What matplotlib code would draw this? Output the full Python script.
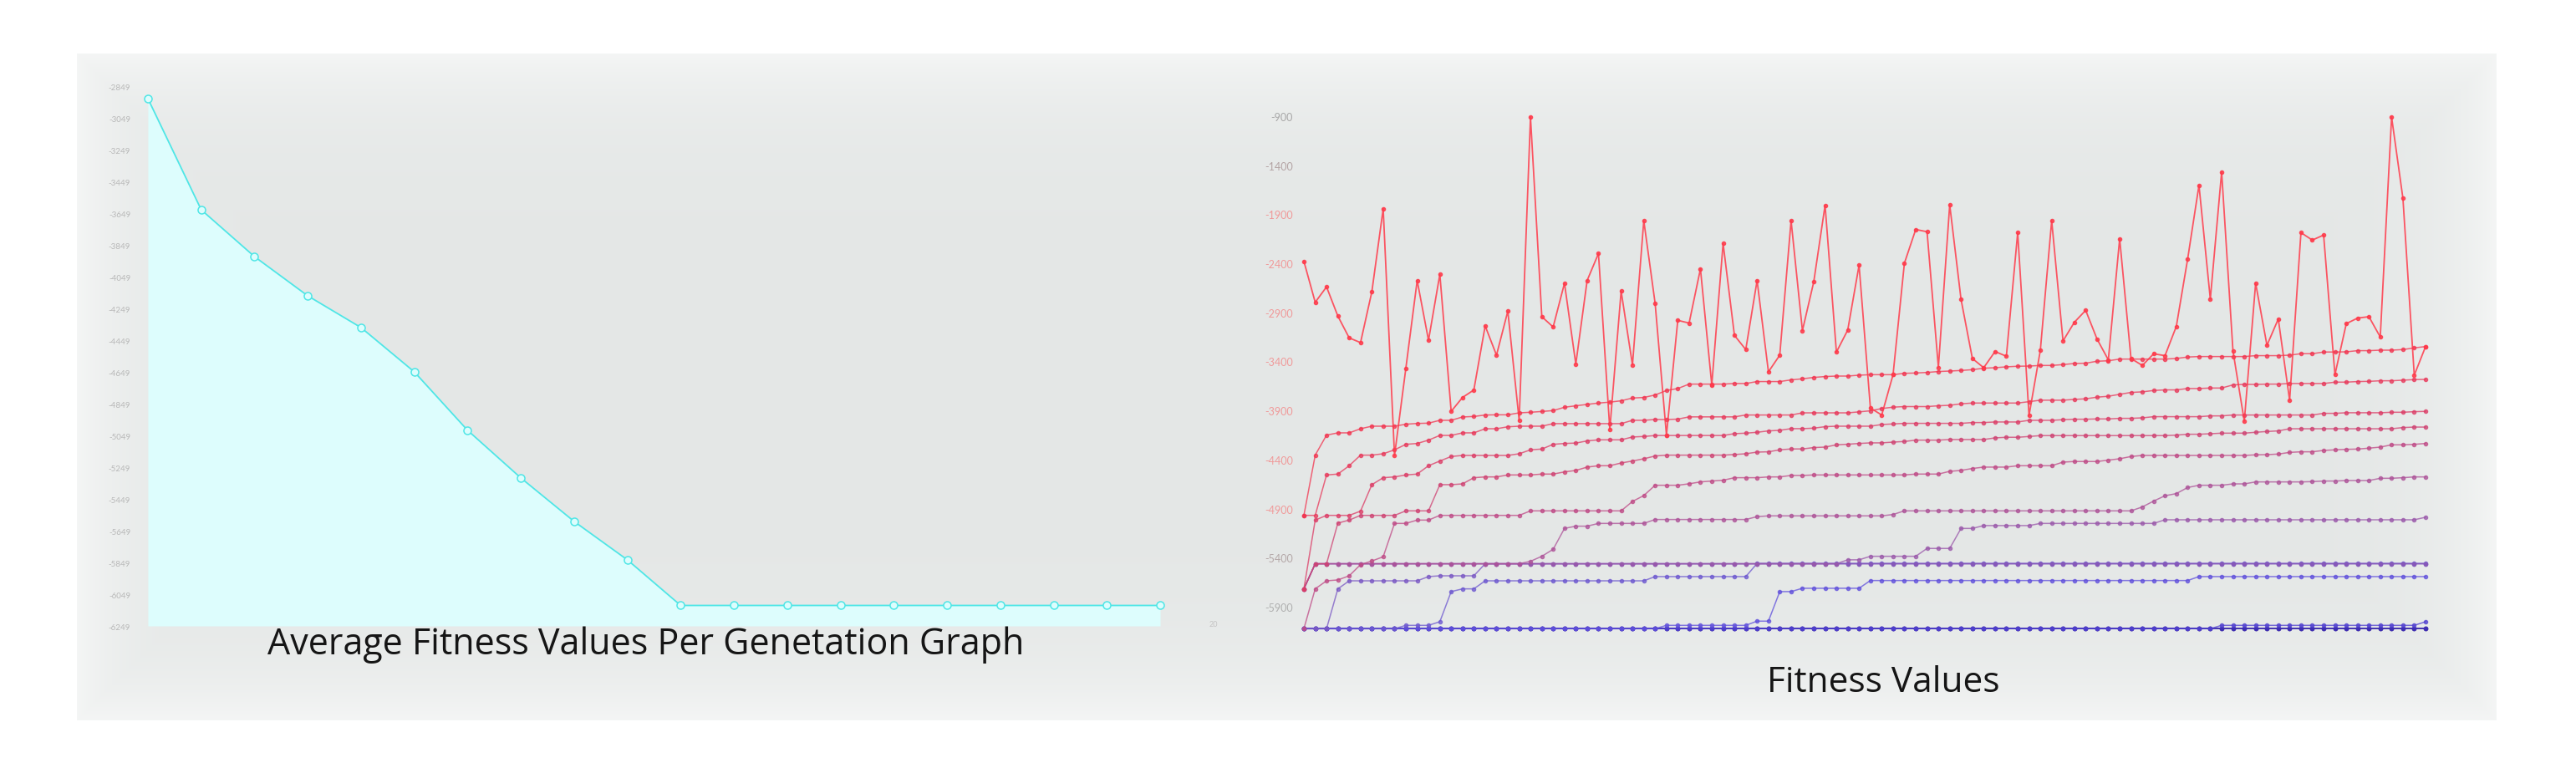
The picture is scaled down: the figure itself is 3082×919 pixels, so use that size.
import numpy as np
import matplotlib
matplotlib.use('Agg')
import matplotlib.pyplot as plt

W, H = 3082, 920

# ---- left chart: average fitness per generation (20 generations)
avg_fitness = [-2928, -3628, -3923, -4170, -4370, -4649, -5017, -5317, -5591, -5833,
               -6120, -6120, -6120, -6120, -6120, -6120, -6120, -6120, -6120, -6120]
left_ticks = [-6249, -6049, -5849, -5649, -5449, -5249, -5049, -4849, -4649,
              -4449, -4249, -4049, -3849, -3649, -3449, -3249, -3049, -2849]
left_xtick = [20]

# ---- right chart: fitness values over 100 generations
best_each_gen = [
    -2379, -2797, -2640, -2938, -3160, -3208, -2689, -1843, -4360, -3469,
    -2575, -3185, -2512, -3909, -3767, -3691, -3038, -3336, -2887, -4000,
    -909, -2944, -3049, -2603, -3427, -2575, -2300, -4094, -2683, -3435,
    -1965, -2808, -4151, -2981, -3009, -2456, -3640, -2197, -3134, -3279,
    -2575, -3506, -3336, -1965, -3086, -2589, -1808, -3305, -3080, -2419,
    -3875, -3946, -3535, -2399, -2055, -2078, -3461, -1803, -2768, -3370,
    -3464, -3299, -3347, -2087, -3952, -3285, -1965, -3191, -3001, -2879,
    -3171, -3384, -2149, -3370, -3441, -3322, -3341, -3043, -2356, -1604,
    -2765, -1468, -3293, -4009, -2603, -3236, -2967, -3796, -2087, -2163,
    -2112, -3535, -3015, -2958, -2944, -3151, -909, -1738, -3540, -3248]

# the ranked lines, read as (value, number of generations) runs
rank1 = [(-4969, 1), (-4355, 1), (-4151, 1), (-4128, 2), (-4086, 1), (-4060, 3), (-4040, 1),
         (-4032, 1), (-4029, 1), (-4000, 2), (-3966, 1), (-3961, 1), (-3946, 1), (-3944, 2),
         (-3924, 1), (-3918, 1), (-3910, 1), (-3901, 1), (-3867, 1), (-3852, 1), (-3838, 1),
         (-3824, 1), (-3815, 1), (-3801, 1), (-3773, 1), (-3767, 1), (-3742, 1), (-3696, 1),
         (-3676, 1), (-3631, 4), (-3625, 2), (-3605, 3), (-3588, 1), (-3577, 1), (-3563, 1),
         (-3554, 1), (-3549, 2), (-3540, 1), (-3535, 3), (-3521, 1), (-3518, 1), (-3512, 1),
         (-3503, 1), (-3498, 1), (-3492, 1), (-3484, 1), (-3469, 1), (-3464, 1), (-3455, 1),
         (-3449, 1), (-3447, 1), (-3441, 2), (-3432, 1), (-3421, 1), (-3418, 1), (-3398, 1),
         (-3393, 1), (-3376, 5), (-3370, 1), (-3355, 1), (-3350, 5), (-3341, 3), (-3336, 1),
         (-3321, 2), (-3304, 2), (-3302, 1), (-3290, 2), (-3285, 2), (-3279, 1), (-3262, 1),
         (-3248, 1)]
rank2 = [(-4969, 2), (-4557, 1), (-4548, 1), (-4463, 1), (-4355, 2), (-4341, 1), (-4301, 1),
         (-4245, 1), (-4236, 1), (-4202, 1), (-4154, 2), (-4128, 2), (-4086, 2), (-4066, 1),
         (-4060, 3), (-4034, 7), (-4000, 2), (-3992, 2), (-3988, 1), (-3965, 5), (-3946, 5),
         (-3924, 5), (-3914, 1), (-3903, 1), (-3880, 1), (-3866, 1), (-3860, 3), (-3852, 1),
         (-3847, 1), (-3832, 1), (-3824, 5), (-3810, 1), (-3795, 3), (-3787, 1), (-3781, 1),
         (-3764, 1), (-3755, 1), (-3735, 1), (-3716, 1), (-3710, 1), (-3696, 1), (-3690, 2),
         (-3676, 2), (-3671, 2), (-3639, 1), (-3634, 2), (-3631, 2), (-3625, 4), (-3611, 2),
         (-3605, 1), (-3603, 1), (-3597, 2), (-3591, 1), (-3585, 1), (-3583, 1)]
rank3 = [(-5718, 1), (-5017, 1), (-4969, 3), (-4926, 1), (-4656, 1), (-4585, 1), (-4577, 1),
         (-4557, 1), (-4548, 1), (-4463, 1), (-4415, 1), (-4369, 1), (-4358, 5), (-4341, 1),
         (-4301, 1), (-4293, 1), (-4245, 1), (-4236, 1), (-4232, 1), (-4210, 1), (-4199, 3),
         (-4170, 1), (-4165, 1), (-4155, 7), (-4136, 1), (-4131, 1), (-4122, 1), (-4108, 1),
         (-4102, 1), (-4085, 2), (-4080, 1), (-4065, 1), (-4060, 4), (-4043, 1), (-4037, 1),
         (-4031, 6), (-4023, 2), (-4017, 3), (-4000, 3), (-3994, 1), (-3989, 2), (-3986, 2),
         (-3980, 2), (-3975, 1), (-3963, 5), (-3955, 2), (-3946, 8), (-3929, 2), (-3923, 4),
         (-3918, 2), (-3912, 1), (-3909, 1)]
rank4 = [(-5718, 1), (-5462, 2), (-5048, 1), (-5017, 1), (-4969, 4), (-4923, 3), (-4656, 2),
         (-4648, 1), (-4585, 1), (-4577, 2), (-4557, 3), (-4548, 2), (-4526, 1), (-4511, 1),
         (-4477, 1), (-4463, 2), (-4435, 1), (-4415, 1), (-4392, 1), (-4364, 1), (-4355, 6),
         (-4349, 1), (-4341, 1), (-4324, 1), (-4321, 1), (-4301, 1), (-4292, 2), (-4278, 1),
         (-4273, 1), (-4250, 1), (-4244, 1), (-4236, 1), (-4230, 2), (-4222, 1), (-4216, 1),
         (-4202, 3), (-4196, 4), (-4179, 1), (-4173, 2), (-4165, 1), (-4156, 12), (-4151, 1),
         (-4142, 2), (-4137, 1), (-4131, 3), (-4122, 1), (-4114, 1), (-4108, 1), (-4086, 10),
         (-4074, 1), (-4069, 2)]
rank5 = [(-6124, 1), (-5718, 1), (-5636, 1), (-5627, 1), (-5585, 1), (-5471, 1), (-5434, 1),
         (-5391, 1), (-5051, 2), (-5017, 2), (-4969, 8), (-4923, 9), (-4827, 1), (-4767, 1),
         (-4662, 3), (-4647, 1), (-4628, 1), (-4619, 1), (-4611, 1), (-4585, 3), (-4577, 2),
         (-4562, 2), (-4557, 9), (-4548, 3), (-4520, 1), (-4511, 1), (-4491, 1), (-4477, 3),
         (-4463, 4), (-4426, 1), (-4420, 3), (-4406, 1), (-4392, 1), (-4369, 1), (-4358, 10),
         (-4352, 1), (-4350, 1), (-4344, 1), (-4327, 1), (-4321, 2), (-4307, 1), (-4301, 1),
         (-4296, 1), (-4293, 1), (-4284, 1), (-4273, 1), (-4250, 2), (-4245, 1), (-4236, 1)]
rank6 = [(-5718, 1), (-5462, 19), (-5437, 1), (-5386, 1), (-5315, 1), (-5102, 1), (-5079, 2),
         (-5051, 5), (-5011, 9), (-4982, 1), (-4974, 11), (-4960, 1), (-4923, 21), (-4883, 1),
         (-4823, 1), (-4769, 1), (-4747, 1), (-4685, 1), (-4662, 3), (-4648, 2), (-4628, 5),
         (-4625, 1), (-4619, 2), (-4614, 3), (-4591, 2), (-4585, 1), (-4577, 2)]
rank7 = [(-5718, 1), (-5462, 47), (-5422, 2), (-5386, 5), (-5306, 3), (-5102, 2), (-5073, 5),
         (-5051, 11), (-5014, 23), (-4988, 1)]
rank8 = [(-5718, 1), (-5462, 99)]
rank9 = [(-6124, 3), (-5718, 1), (-5636, 7), (-5593, 1), (-5585, 4), (-5462, 84)]
rank10 = [(-6124, 9), (-6090, 3), (-6053, 1), (-5746, 1), (-5718, 2), (-5636, 15), (-5593, 9),
          (-5459, 60)]
rank11 = [(-6124, 32), (-6090, 8), (-6047, 2), (-5746, 2), (-5712, 6), (-5633, 29), (-5593, 21)]
rank12 = [(-6124, 81), (-6090, 18), (-6053, 1)]
rank13 = [(-6124, 100)]
rank14 = [(-6124, 100)]
rank15 = [(-6124, 100)]
right_ticks = [-5900, -5400, -4900, -4400, -3900, -3400, -2900, -2400, -1900, -1400, -900]


def expand(runs):
    vals = [v for v, n in runs for _ in range(n)]
    assert len(vals) == 100, len(vals)
    return vals


ranked = [rank1, rank2, rank3, rank4, rank5, rank6, rank7, rank8, rank9, rank10,
          rank11, rank12, rank13, rank14, rank15]
rank_colors = ['#f2344f', '#e8385a', '#dc3c66', '#cf4272', '#bf4a86', '#ad5298', '#9a58aa',
               '#8858b8', '#7a58c4', '#6d58d0', '#6050dc', '#5040d0', '#4030b8', '#3420a0',
               '#2a1488']
tick_cols = ['#b0b0b0', '#b4a8a8', '#f09a9a', '#f09a9a', '#f09a9a', '#f09a9a', '#f09a9a',
             '#f09a9a', '#f09a9a', '#b4a4a4', '#a8a8a8']

fig = plt.figure(figsize=(W / 100, H / 100), dpi=100)
fig.patch.set_facecolor('white')

# grey panel with soft light edges
bg = fig.add_axes([0, 0, 1, 1], zorder=-5)
xx, yy = np.meshgrid(np.arange(W), np.arange(H))
d = np.minimum(np.minimum(xx - 92, 2986 - xx), np.minimum(yy - 65, 862 - yy)).astype(float)
inside = d >= 0
lift = 0.8 * np.exp(-np.clip(d, 0, None) / 70.0)
base = np.array([228, 231, 230]) / 255.0
img = base[None, None, :] + (1 - base[None, None, :]) * lift[..., None] * 0.75
img[~inside] = 1.0
bg.imshow(img, aspect='auto', extent=[0, W, H, 0], interpolation='bilinear')
bg.set_xlim(0, W)
bg.set_ylim(H, 0)
bg.axis('off')


def px_axes(left, right, top, bottom):
    return fig.add_axes([left / W, 1 - bottom / H, (right - left) / W, (bottom - top) / H])


# ---- left chart
ax1 = px_axes(177, 1500, 80, 750)
ax1.set_facecolor('none')
gx = np.arange(len(avg_fitness))
ax1.fill_between(gx, avg_fitness, left_ticks[0], color='#ddfdfd', lw=0, zorder=1)
ax1.plot(gx, avg_fitness, color='#4fe6e6', lw=1.3, marker='o', ms=6.5, mfc='#ddfdfd',
         mec='#4fe6e6', mew=1.1, clip_on=False, zorder=3)
ax1.set_xlim(0, (1500 - 177) / 63.74)
ax1.set_ylim(left_ticks[0], left_ticks[0] + 670 / 0.19)
ax1.set_yticks(left_ticks)
ax1.set_yticklabels([str(t) for t in left_ticks], fontsize=7, color='#b8b8b8', family='Lato')
ax1.set_xticks(left_xtick)
ax1.set_xticklabels([str(t) for t in left_xtick], fontsize=6.5, color='#c4c4c4', family='Lato')
ax1.tick_params(axis='y', length=0, pad=15)
ax1.tick_params(axis='x', length=0, pad=-5)
for s in ax1.spines.values():
    s.set_visible(False)

# ---- right chart
ax2 = px_axes(1560, 2960, 110, 790)
ax2.set_facecolor('none')
gens = np.arange(100)
for runs, col in reversed(list(zip(ranked, rank_colors))):
    ax2.plot(gens, expand(runs), color=col, lw=1.1, alpha=0.75, marker='o', ms=3,
             mec=col, mfc=col, clip_on=False, zorder=2)
ax2.plot(gens, best_each_gen, color='#ff3a4a', lw=1.3, alpha=0.85, marker='o', ms=3,
         clip_on=False, zorder=4)
ax2.set_xlim(0, 1400 / 13.556)
ax2.set_ylim(-900 - 650 / 0.1174, -900 + 30 / 0.1174)
ax2.set_yticks(right_ticks)
ax2.set_yticklabels([str(t) for t in right_ticks], fontsize=9, family='Lato')
for lab, c in zip(ax2.get_yticklabels(), tick_cols):
    lab.set_color(c)
ax2.set_xticks([])
ax2.tick_params(axis='y', length=0, pad=9.5)
for s in ax2.spines.values():
    s.set_visible(False)

# ---- titles
t1 = fig.text(773 / W, 1 - 783 / H, 'Average Fitness Values Per Genetation Graph',
              ha='center', va='baseline', fontsize=32, color='#151515', family='Open Sans')
t2 = fig.text(2253 / W, 1 - 828 / H, 'Fitness Values', ha='center', va='baseline',
              fontsize=32, color='#151515', family='Open Sans')
r = fig.canvas.get_renderer()
for t, target in ((t1, 906), (t2, 278)):
    w = t.get_window_extent(r).width
    t.set_fontsize(t.get_fontsize() * target / w)

fig.savefig('out.png', dpi=100, facecolor='white')
